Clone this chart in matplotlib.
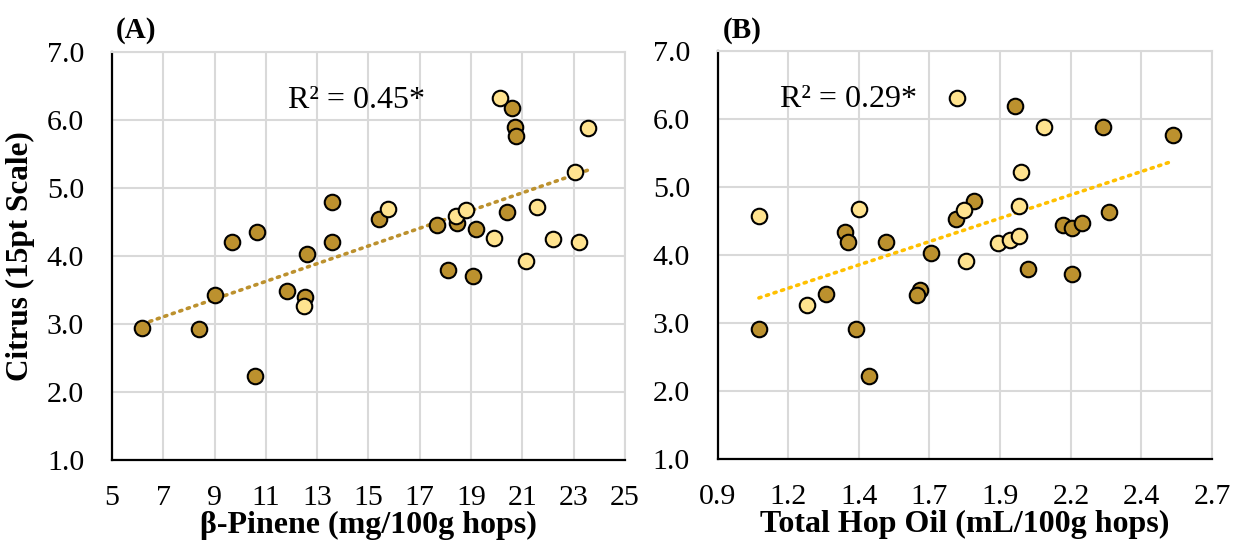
import numpy as np
import matplotlib.pyplot as plt

# ---- data ----
# panel A: beta-pinene vs citrus
pinene_dark = [13.57, 9.69, 10.64, 13.57, 12.59, 9.02, 6.18, 8.40, 10.58, 11.84, 12.54,
               20.60, 20.71, 20.74, 15.41, 17.68, 18.44, 19.19, 20.39, 18.11, 19.09]
citrus_a_dark = [4.80, 4.21, 4.35, 4.21, 4.03, 3.43, 2.94, 2.93, 2.23, 3.49, 3.40,
                 6.18, 5.89, 5.77, 4.54, 4.45, 4.49, 4.40, 4.65, 3.79, 3.71]
pinene_light = [12.50, 20.13, 23.55, 23.05, 15.77, 18.40, 18.79, 19.89, 21.56, 22.18, 23.22, 21.14]
citrus_a_light = [3.27, 6.32, 5.88, 5.23, 4.69, 4.59, 4.68, 4.27, 4.72, 4.25, 4.20, 3.92]

# panel B: total hop oil vs citrus
oil_dark = [1.364, 1.376, 1.512, 1.676, 1.293, 1.637, 1.627, 1.050, 1.402, 1.452, 1.767,
            1.835, 1.983, 2.304, 2.557, 2.325, 2.156, 2.191, 2.225, 2.030, 2.190]
citrus_b_dark = [4.34, 4.19, 4.20, 4.03, 3.43, 3.49, 3.41, 2.92, 2.92, 2.22, 4.53,
                 4.80, 6.19, 5.88, 5.77, 4.64, 4.45, 4.40, 4.48, 3.79, 3.72]
oil_light = [1.770, 1.050, 1.415, 1.803, 1.226, 1.795, 2.089, 2.005, 1.997, 1.922, 1.965, 1.997]
citrus_b_light = [6.32, 4.58, 4.68, 3.92, 3.27, 4.66, 5.88, 5.23, 4.72, 4.18, 4.23, 4.28]

r2_labels = ['R² = 0.45*', 'R² = 0.29*']
yticks = [1.0, 2.0, 3.0, 4.0, 5.0, 6.0, 7.0]
xticks_a = [5, 7, 9, 11, 13, 15, 17, 19, 21, 23, 25]
xticks_b = [0.9, 1.157, 1.414, 1.671, 1.929, 2.186, 2.443, 2.7]

dark = '#BC912E'
light = '#FFE38F'
grid_c = '#D9D9D9'

plt.rcParams['font.family'] = ['Liberation Serif', 'DejaVu Serif']

fig = plt.figure(figsize=(12.33, 5.41), dpi=100)
ax1 = fig.add_axes([0.0908, 0.1500, 0.4161, 0.7539])
ax2 = fig.add_axes([0.5821, 0.1516, 0.4009, 0.7534])


def style(ax, xticks, xlim, xfmt, xlabel):
    ax.set_xlim(xlim)
    ax.set_ylim(1.0, 7.0)
    ax.set_xticks(xticks)
    ax.set_xticklabels([xfmt(v) for v in xticks])
    ax.set_yticks(yticks)
    ax.set_yticklabels(['%.1f' % v for v in yticks])
    ax.grid(True, color=grid_c, lw=1.5, zorder=0)
    ax.set_axisbelow(True)
    ax.tick_params(length=0, labelsize=21.5, pad=18)
    ax.tick_params(axis='y', pad=20)
    for s in ['top', 'right']:
        ax.spines[s].set_color(grid_c)
        ax.spines[s].set_linewidth(1.5)
    for s in ['left', 'bottom']:
        ax.spines[s].set_color('black')
        ax.spines[s].set_linewidth(1.6)
    ax.set_xlabel(xlabel, fontsize=23, fontweight='bold', labelpad=0)


def trend(ax, x, y, color):
    m, b = np.polyfit(x, y, 1)
    xs = np.array([min(x), max(x)])
    ax.plot(xs, m * xs + b, color=color, lw=2.6, ls=(0, (0.6, 1.6)),
            dash_capstyle='round', zorder=2)


# panel A
xa = pinene_dark + pinene_light
ya = citrus_a_dark + citrus_a_light
trend(ax1, xa, ya, dark)
ax1.scatter(pinene_dark, citrus_a_dark, s=125, c=dark, edgecolors='black', linewidths=1.5, zorder=3)
ax1.scatter(pinene_light, citrus_a_light, s=125, c=light, edgecolors='black', linewidths=1.5, zorder=3)
style(ax1, xticks_a, (5, 25), lambda v: '%d' % v, 'β-Pinene (mg/100g hops)')
ax1.set_ylabel('Citrus (15pt Scale)', fontsize=22.5, fontweight='bold')
ax1.yaxis.set_label_coords(-0.150, 0.5)
ax1.text(14.55, 6.29, r2_labels[0], fontsize=23, ha='center', va='center')

# panel B
xb = oil_dark + oil_light
yb = citrus_b_dark + citrus_b_light
trend(ax2, xb, yb, '#FFC000')
ax2.scatter(oil_dark, citrus_b_dark, s=125, c=dark, edgecolors='black', linewidths=1.5, zorder=3)
ax2.scatter(oil_light, citrus_b_light, s=125, c=light, edgecolors='black', linewidths=1.5, zorder=3)
style(ax2, xticks_b, (0.9, 2.7), lambda v: '%.1f' % v, 'Total Hop Oil (mL/100g hops)')
ax2.text(1.375, 6.29, r2_labels[1], fontsize=23, ha='center', va='center')

fig.text(136 / 1233, 0.943, '(A)', fontsize=21, fontweight='bold', ha='center', va='center')
fig.text(742 / 1233, 0.943, '(B)', fontsize=21, fontweight='bold', ha='center', va='center')

fig.savefig('out.png', dpi=100)
